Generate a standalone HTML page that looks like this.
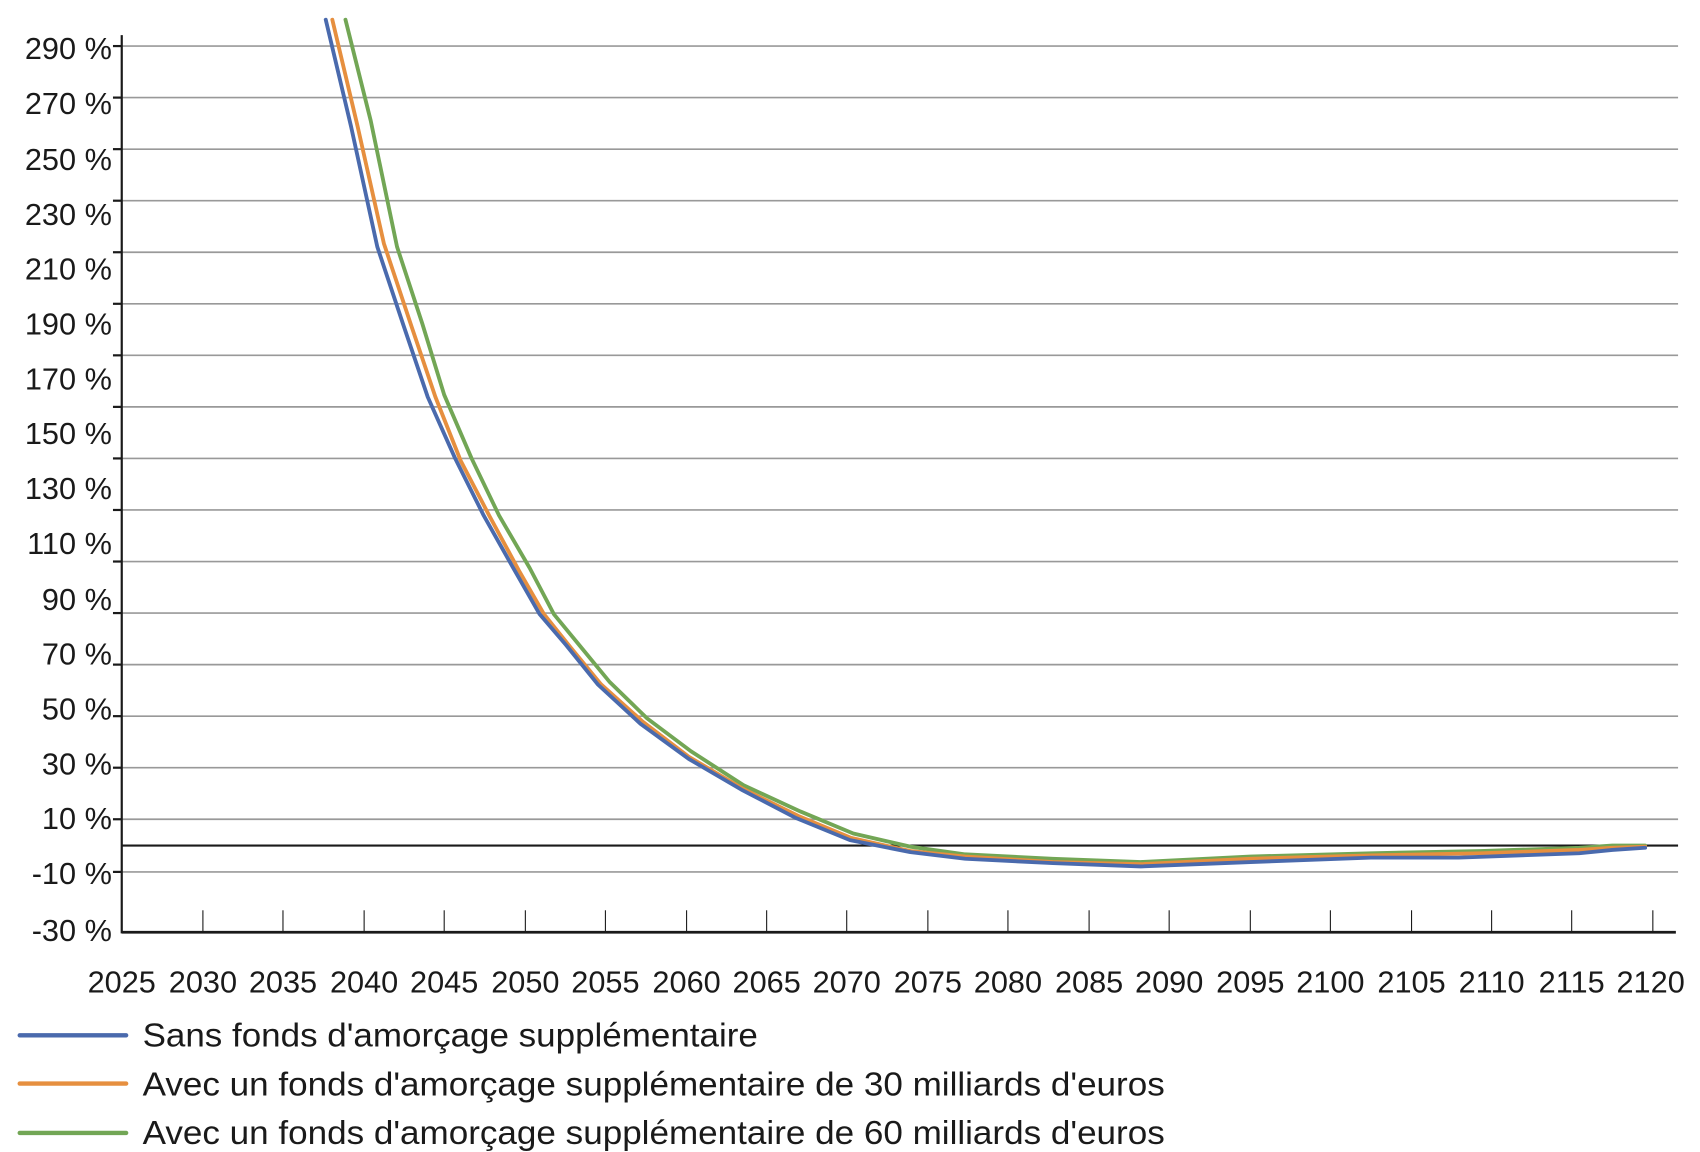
<!DOCTYPE html>
<html><head><meta charset="utf-8"><style>html,body{margin:0;padding:0;background:#fff}svg{display:block}</style></head>
<body>
<svg width="1700" height="1152" viewBox="0 0 1550 1050.4" preserveAspectRatio="none" xmlns="http://www.w3.org/2000/svg" font-family="Liberation Sans Narrow, Liberation Sans, sans-serif" fill="#1a1a1a">
<g stroke="#999" stroke-width="1.5">
<line x1="111" x2="1530" y1="42" y2="42"/><line x1="111" x2="1530" y1="89" y2="89"/><line x1="111" x2="1530" y1="136" y2="136"/><line x1="111" x2="1530" y1="183" y2="183"/><line x1="111" x2="1530" y1="230" y2="230"/><line x1="111" x2="1530" y1="277" y2="277"/><line x1="111" x2="1530" y1="324" y2="324"/><line x1="111" x2="1530" y1="371" y2="371"/><line x1="111" x2="1530" y1="418" y2="418"/><line x1="111" x2="1530" y1="465" y2="465"/><line x1="111" x2="1530" y1="512" y2="512"/><line x1="111" x2="1530" y1="559" y2="559"/><line x1="111" x2="1530" y1="606" y2="606"/><line x1="111" x2="1530" y1="653" y2="653"/><line x1="111" x2="1530" y1="700" y2="700"/><line x1="111" x2="1530" y1="747" y2="747"/><line x1="111" x2="1530" y1="795" y2="795"/>
</g>
<g stroke="#1a1a1a" stroke-width="2">
<line x1="111" x2="111" y1="32" y2="851"/>
<line x1="103" x2="111" y1="42" y2="42"/><line x1="103" x2="111" y1="89" y2="89"/><line x1="103" x2="111" y1="136" y2="136"/><line x1="103" x2="111" y1="183" y2="183"/><line x1="103" x2="111" y1="230" y2="230"/><line x1="103" x2="111" y1="277" y2="277"/><line x1="103" x2="111" y1="324" y2="324"/><line x1="103" x2="111" y1="371" y2="371"/><line x1="103" x2="111" y1="418" y2="418"/><line x1="103" x2="111" y1="465" y2="465"/><line x1="103" x2="111" y1="512" y2="512"/><line x1="103" x2="111" y1="559" y2="559"/><line x1="103" x2="111" y1="606" y2="606"/><line x1="103" x2="111" y1="653" y2="653"/><line x1="103" x2="111" y1="700" y2="700"/><line x1="103" x2="111" y1="747" y2="747"/><line x1="103" x2="111" y1="795" y2="795"/>
<line x1="111" x2="1530" y1="771" y2="771"/>
<line x1="111" x2="1528" y1="850" y2="850" stroke-width="2.5"/>
</g>
<g stroke="#1a1a1a" stroke-width="1">
<line x1="185" x2="185" y1="830" y2="850"/><line x1="258" x2="258" y1="830" y2="850"/><line x1="332" x2="332" y1="830" y2="850"/><line x1="405" x2="405" y1="830" y2="850"/><line x1="479" x2="479" y1="830" y2="850"/><line x1="552" x2="552" y1="830" y2="850"/><line x1="626" x2="626" y1="830" y2="850"/><line x1="699" x2="699" y1="830" y2="850"/><line x1="772" x2="772" y1="830" y2="850"/><line x1="846" x2="846" y1="830" y2="850"/><line x1="919" x2="919" y1="830" y2="850"/><line x1="993" x2="993" y1="830" y2="850"/><line x1="1066" x2="1066" y1="830" y2="850"/><line x1="1140" x2="1140" y1="830" y2="850"/><line x1="1213" x2="1213" y1="830" y2="850"/><line x1="1287" x2="1287" y1="830" y2="850"/><line x1="1360" x2="1360" y1="830" y2="850"/><line x1="1433" x2="1433" y1="830" y2="850"/><line x1="1507" x2="1507" y1="830" y2="850"/>
</g>
<g font-size="28" text-anchor="end">
<text x="102" y="54">290 %</text><text x="102" y="104">270 %</text><text x="102" y="155">250 %</text><text x="102" y="205">230 %</text><text x="102" y="255">210 %</text><text x="102" y="305">190 %</text><text x="102" y="355">170 %</text><text x="102" y="405">150 %</text><text x="102" y="455">130 %</text><text x="102" y="505">110 %</text><text x="102" y="556">90 %</text><text x="102" y="606">70 %</text><text x="102" y="656">50 %</text><text x="102" y="706">30 %</text><text x="102" y="756">10 %</text><text x="102" y="806">-10 %</text><text x="102" y="858">-30 %</text>
</g>
<g font-size="28" text-anchor="middle">
<text x="111" y="905">2025</text><text x="185" y="905">2030</text><text x="258" y="905">2035</text><text x="332" y="905">2040</text><text x="405" y="905">2045</text><text x="479" y="905">2050</text><text x="552" y="905">2055</text><text x="626" y="905">2060</text><text x="699" y="905">2065</text><text x="772" y="905">2070</text><text x="846" y="905">2075</text><text x="919" y="905">2080</text><text x="993" y="905">2085</text><text x="1066" y="905">2090</text><text x="1140" y="905">2095</text><text x="1213" y="905">2100</text><text x="1287" y="905">2105</text><text x="1360" y="905">2110</text><text x="1433" y="905">2115</text><text x="1505" y="905">2120</text>
</g>
<g fill="none" stroke-width="3.5" stroke-linejoin="round" stroke-linecap="round">
<polyline stroke="#72a655" points="315,18 338,110 362,225 385,295 405,360 430,418 455,470 483,518 505,560 528,588 556,622 590,655 630,685 678,716 730,740 778,760 830,772 880,779 960,783 1040,786 1140,781 1250,778 1350,776 1440,773 1470,771 1500,771"/>
<polyline stroke="#e68f3f" points="303,18 326,115 350,222 375,297 397,362 420,420 446,470 473,520 496,560 520,590 548,624 586,658 628,690 677,719 728,744 776,764 830,776 880,781 960,786 1040,788 1140,783 1250,780 1350,778 1440,775 1470,773 1500,772"/>
<polyline stroke="#4a6aad" points="297,18 320,115 344,225 368,297 390,362 415,418 441,470 468,518 492,560 516,588 545,624 584,660 628,692 676,720 726,746 775,766 830,777 880,783 960,787 1040,790 1140,786 1250,782 1330,782 1440,778 1470,775 1500,773"/>
</g>
<g stroke-width="4" stroke-linecap="round">
<line x1="18" x2="115" y1="944" y2="944" stroke="#4a6aad"/>
<line x1="18" x2="115" y1="988" y2="988" stroke="#e68f3f"/>
<line x1="18" x2="115" y1="1033" y2="1033" stroke="#72a655"/>
</g>
<g font-size="30">
<text x="130" y="954" textLength="561" lengthAdjust="spacingAndGlyphs">Sans fonds d'amorçage supplémentaire</text>
<text x="130" y="999" textLength="932" lengthAdjust="spacingAndGlyphs">Avec un fonds d'amorçage supplémentaire de 30 milliards d'euros</text>
<text x="130" y="1043" textLength="932" lengthAdjust="spacingAndGlyphs">Avec un fonds d'amorçage supplémentaire de 60 milliards d'euros</text>
</g>
</svg>
</body></html>
